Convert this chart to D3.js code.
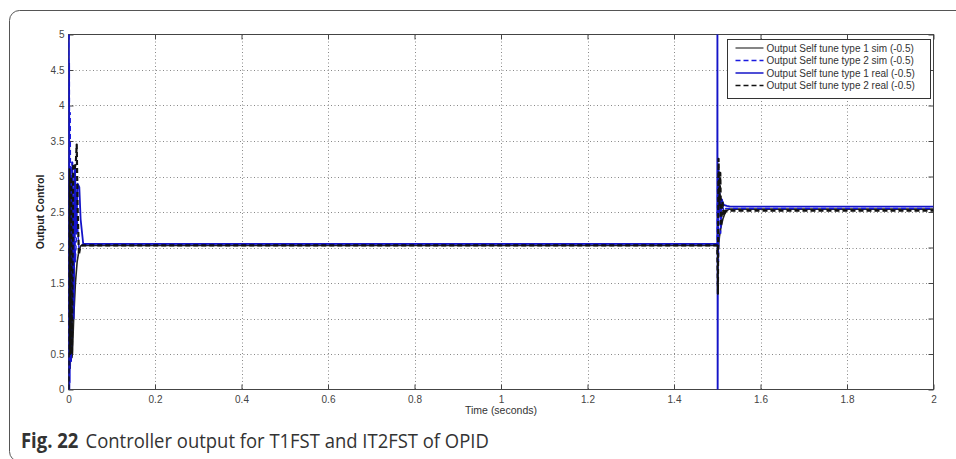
<!DOCTYPE html>
<html>
<head>
<meta charset="utf-8">
<script src="https://cdn.jsdelivr.net/npm/d3@7"></script>
<style>
  html, body { margin: 0; padding: 0; background: #fff; }
  svg { display: block; }
</style>
</head>
<body>
<svg id="chart" width="956" height="459"></svg>
<script>
// Axis ticks
const xTicks = [0, 0.2, 0.4, 0.6, 0.8, 1, 1.2, 1.4, 1.6, 1.8, 2];
const yTicks = [0, 0.5, 1, 1.5, 2, 2.5, 3, 3.5, 4, 4.5, 5];

const legendLabels = [
  "Output Self tune type 1 sim (-0.5)",
  "Output Self tune type 2 sim (-0.5)",
  "Output Self tune type 1 real (-0.5)",
  "Output Self tune type 2 real (-0.5)"
];

// Output Self tune type 1 sim
const t1SimTime  = [0, 0.002, 0.004, 0.006, 0.008, 0.009, 0.012, 0.016, 0.020, 0.024, 0.028, 0.033,
                    1.5, 1.502, 1.505, 1.509, 1.513, 1.517, 1.522, 1.528, 2];
const t1SimValue = [0, 2.9, 0.3, 2.6, 0.45, 0.5, 1.0, 1.5, 1.8, 1.95, 2.02, 2.03,
                    2.03, 1.95, 2.15, 2.3, 2.4, 2.47, 2.52, 2.54, 2.54];

// Output Self tune type 2 sim
const t2SimTime  = [0, 0.001, 0.002, 0.003, 0.004, 0.006, 0.008, 0.010, 0.013, 0.016, 0.020, 0.024, 0.030,
                    1.5, 1.501, 1.503, 1.505, 1.508, 1.511, 1.515, 1.520, 2];
const t2SimValue = [5, 0.2, 4.6, 0.1, 3.9, 0.4, 3.2, 1.2, 3.0, 1.8, 2.4, 2.0, 2.04,
                    2.04, 3.1, 1.8, 2.9, 2.2, 2.7, 2.5, 2.55, 2.55];

// Output Self tune type 1 real
const t1RealTime  = [0, 0.001, 0.002, 0.004, 0.006, 0.009, 0.012, 0.015, 0.018, 0.021, 0.025, 0.028, 0.034,
                     1.5, 1.5004, 1.5009, 1.5015, 1.503, 1.506, 1.510, 1.515, 1.522, 1.530, 2];
const t1RealValue = [5, 5, 0, 3.1, 0.4, 3.2, 1.0, 3.15, 2.2, 2.9, 2.85, 2.4, 2.05,
                     2.05, 5.8, -0.8, 2.2, 3.1, 2.5, 2.68, 2.6, 2.585, 2.575, 2.575];

// Output Self tune type 2 real
const t2RealTime  = [0, 0.002, 0.004, 0.006, 0.008, 0.011, 0.014, 0.017, 0.019, 0.021, 0.024, 0.027, 0.031,
                     1.5, 1.5015, 1.503, 1.505, 1.507, 1.509, 1.512, 1.515, 1.519, 1.524, 2];
const t2RealValue = [0, 3.1, 0.5, 3.0, 0.5, 3.15, 3.1, 3.2, 3.45, 2.6, 1.9, 2.0, 2.03,
                     2.03, 1.35, 3.25, 2.6, 3.05, 2.3, 2.65, 2.45, 2.52, 2.52, 2.52];

const series = [
  { label: legendLabels[0], t: t1SimTime,  v: t1SimValue,  color: "#222",    width: 1.6, key: 1.1, dash: null },
  { label: legendLabels[1], t: t2SimTime,  v: t2SimValue,  color: "#1a1ae0", width: 1.4, key: 1.3, dash: "5,3" },
  { label: legendLabels[2], t: t1RealTime, v: t1RealValue, color: "#1414c8", width: 1.8, key: 1.5, dash: null },
  { label: legendLabels[3], t: t2RealTime, v: t2RealValue, color: "#111",    width: 2.2, key: 1.5, dash: "5,3" }
];

const svg = d3.select("#chart");
const plotLeft = 68.5, plotRight = 933.5, plotTop = 34.5, plotBottom = 389.5;

const x = d3.scaleLinear().domain([0, 2]).range([plotLeft, plotRight]);
const y = d3.scaleLinear().domain([0, 5]).range([plotBottom, plotTop]);

// Figure card outline
svg.append("rect")
  .attr("x", 9.5).attr("y", 10.5)
  .attr("width", 980).attr("height", 451)
  .attr("rx", 10).attr("ry", 10)
  .attr("fill", "none").attr("stroke", "#555").attr("stroke-width", 1);

// Dotted grid
const grid = svg.append("g").attr("stroke", "#888").attr("stroke-width", 1).attr("stroke-dasharray", "1,2.5");
grid.selectAll(".gx").data(xTicks.slice(1, -1)).join("line")
  .attr("x1", d => Math.round(x(d)) + 0.5).attr("x2", d => Math.round(x(d)) + 0.5)
  .attr("y1", plotTop).attr("y2", plotBottom);
grid.selectAll(".gy").data(yTicks.slice(1, -1)).join("line")
  .attr("y1", d => Math.round(y(d)) + 0.5).attr("y2", d => Math.round(y(d)) + 0.5)
  .attr("x1", plotLeft).attr("x2", plotRight);

// Axes with inward ticks on all four sides
const tickFmt = d3.format("~g");
function styleAxis(g) {
  g.select(".domain").remove();
  g.selectAll(".tick line").attr("stroke", "#444");
  g.selectAll(".tick text").attr("fill", "#444")
    .style("font-family", "'Liberation Sans', Arial, sans-serif").style("font-size", "10px");
}
svg.append("g").attr("transform", `translate(0,${plotBottom})`)
  .call(d3.axisBottom(x).tickValues(xTicks).tickFormat(tickFmt).tickSizeInner(-5).tickPadding(6))
  .call(styleAxis);
svg.append("g").attr("transform", `translate(0,${plotTop})`)
  .call(d3.axisTop(x).tickValues(xTicks).tickFormat("").tickSizeInner(-5))
  .call(styleAxis);
svg.append("g").attr("transform", `translate(${plotLeft},0)`)
  .call(d3.axisLeft(y).tickValues(yTicks).tickFormat(tickFmt).tickSizeInner(-5).tickPadding(4))
  .call(styleAxis);
svg.append("g").attr("transform", `translate(${plotRight},0)`)
  .call(d3.axisRight(y).tickValues(yTicks).tickFormat("").tickSizeInner(-5))
  .call(styleAxis);

// Plot box
svg.append("rect")
  .attr("x", plotLeft).attr("y", plotTop).attr("width", plotRight - plotLeft).attr("height", plotBottom - plotTop)
  .attr("fill", "none").attr("stroke", "#444").attr("stroke-width", 1);

// Clip lines to the plot area
svg.append("clipPath").attr("id", "plotClip")
  .append("rect").attr("x", plotLeft).attr("y", plotTop)
  .attr("width", plotRight - plotLeft).attr("height", plotBottom - plotTop);

const line = d3.line().x(d => x(d[0])).y(d => y(d[1]));
svg.append("g").attr("clip-path", "url(#plotClip)")
  .selectAll("path").data(series).join("path")
  .attr("d", s => line(s.t.map((t, i) => [t, s.v[i]])))
  .attr("fill", "none")
  .attr("stroke", s => s.color)
  .attr("stroke-width", s => s.width)
  .attr("stroke-dasharray", s => s.dash)
  .attr("stroke-linejoin", "round");

// Legend
const lg = svg.append("g").attr("transform", "translate(727.5,39.5)");
lg.append("rect").attr("width", 203).attr("height", 59)
  .attr("fill", "#fff").attr("stroke", "#333").attr("stroke-width", 1);
const items = lg.selectAll(".item").data(series).join("g")
  .attr("transform", (d, i) => `translate(0,${8.5 + i * 12.5})`);
items.append("line").attr("x1", 8).attr("x2", 36).attr("y1", 0).attr("y2", 0)
  .attr("stroke", d => d.color).attr("stroke-width", d => d.key)
  .attr("stroke-dasharray", d => d.dash ? "5,3" : null);
items.append("text").attr("x", 39).attr("y", 3.5)
  .attr("fill", "#333")
  .style("font-family", "'Liberation Sans', Arial, sans-serif").style("font-size", "10px")
  .text(d => d.label);

// Axis titles
svg.append("text")
  .attr("x", (plotLeft + plotRight) / 2).attr("y", 414)
  .attr("text-anchor", "middle").attr("fill", "#333")
  .style("font-family", "'Liberation Sans', Arial, sans-serif").style("font-size", "10.5px")
  .text("Time (seconds)");
svg.append("text")
  .attr("transform", `translate(44,${(plotTop + plotBottom) / 2}) rotate(-90)`)
  .attr("text-anchor", "middle").attr("fill", "#222")
  .style("font-family", "'Liberation Sans', Arial, sans-serif").style("font-size", "10.5px")
  .style("font-weight", "bold")
  .text("Output Control");

// Caption (slightly condensed)
const cap = svg.append("text")
  .attr("transform", "translate(21,448) scale(0.9,1)")
  .attr("fill", "#333")
  .style("font-family", "'Open Sans', sans-serif").style("font-size", "20.5px");
cap.append("tspan").style("font-weight", "bold").text("Fig. 22");
cap.append("tspan").attr("dx", 8).text("Controller output for T1FST and IT2FST of OPID");
</script>
</body>
</html>
